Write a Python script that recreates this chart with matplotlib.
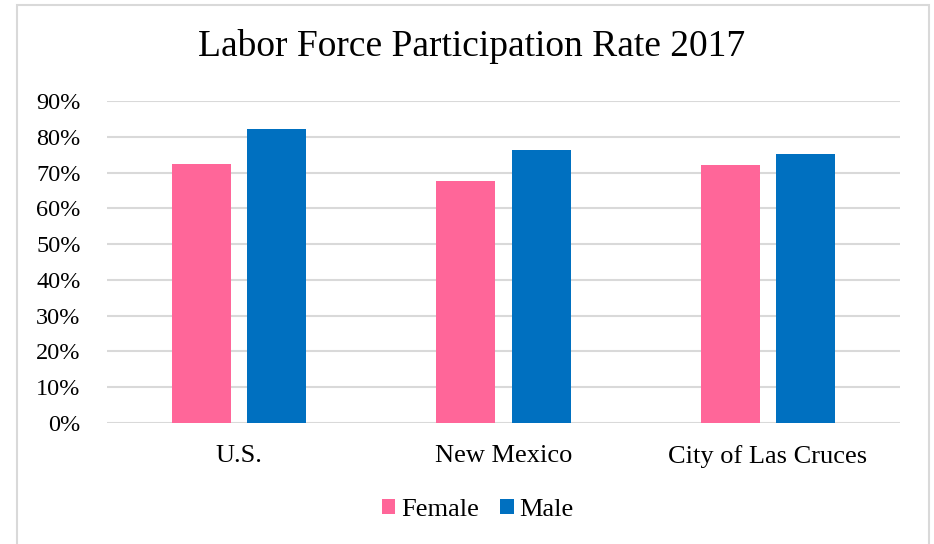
import matplotlib.pyplot as plt
import numpy as np
from matplotlib.patches import Rectangle

categories = ['U.S.', 'New Mexico', 'City of Las Cruces']
female = [72.3, 67.7, 72.0]
male = [82.1, 76.3, 75.1]
yticks = [0, 10, 20, 30, 40, 50, 60, 70, 80, 90]

plt.rcParams['font.family'] = ['Liberation Serif', 'DejaVu Serif']

fig = plt.figure(figsize=(9.34, 5.44), dpi=100)
ax = fig.add_axes([107 / 934, 121 / 544, 793 / 934, 322 / 544])

x = np.arange(len(categories))
w = 0.223
off = 0.142
ax.bar(x - off, female, w, color='#FF6699', label='Female', zorder=3)
ax.bar(x + off, male, w, color='#0070C0', label='Male', zorder=3)

ax.set_xlim(-0.5, 2.5)
ax.set_ylim(0, 90)
ax.set_yticks(yticks)
ax.set_yticklabels([f'{v}%' for v in yticks])
ax.set_xticks(x)
ax.set_xticklabels(categories)
ax.tick_params(axis='y', length=0, pad=19, labelsize=17.5)
ax.tick_params(axis='x', length=0, pad=16, labelsize=19)
ax.grid(axis='y', color='#D9D9D9', linewidth=1.5, zorder=0)
for s in ax.spines.values():
    s.set_visible(False)

fig.text(472 / 934, 1 - 47 / 544, 'Labor Force Participation Rate 2017',
         ha='center', va='center', fontsize=27)

fig.legend(loc='center', bbox_to_anchor=(478 / 934, 1 - 510 / 544), ncol=2,
           frameon=False, fontsize=19, handlelength=0.5, handleheight=0.5,
           handletextpad=0.23, columnspacing=0.8)

fig.patches.append(Rectangle((17 / 934, -0.05), (929 - 17) / 934, 1.05 - 5 / 544,
                             transform=fig.transFigure, fill=False,
                             edgecolor='#D9D9D9', linewidth=1.5))

fig.savefig('out.png', dpi=100)
